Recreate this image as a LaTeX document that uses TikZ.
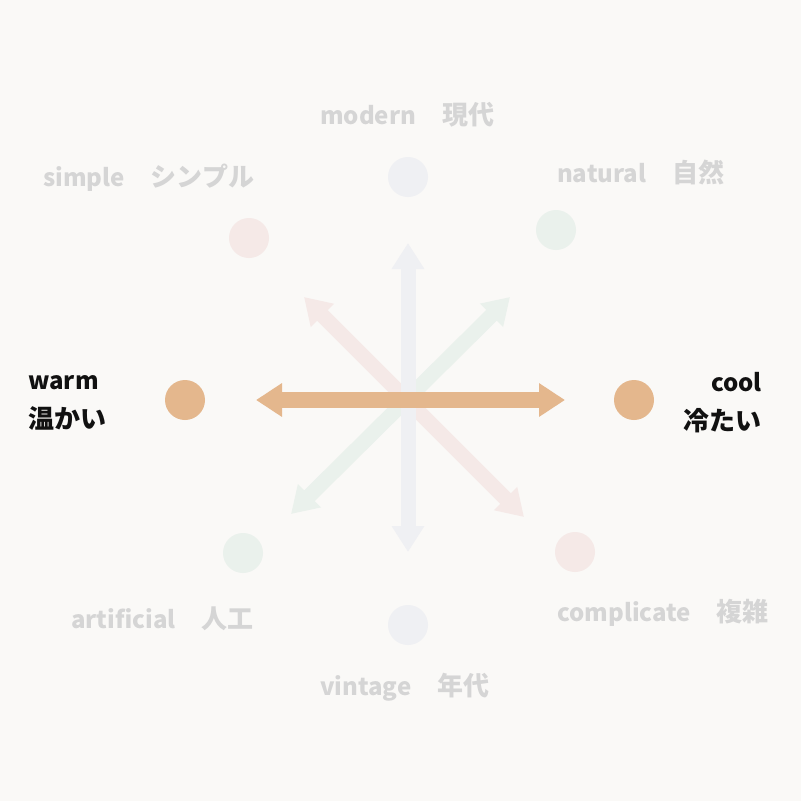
\documentclass[tikz,border=0pt]{standalone}
\usepackage{fontspec}
\setmainfont{Noto Sans CJK JP}
\usetikzlibrary{arrows.meta}
\definecolor{bgcol}{HTML}{FAF9F7}
\definecolor{warmcol}{HTML}{E4B78D}
\definecolor{modcol}{HTML}{EFF0F3}
\definecolor{simcol}{HTML}{F5E9E7}
\definecolor{natcol}{HTML}{EAF1EC}
\definecolor{labcol}{HTML}{D5D5D5}
\definecolor{inkcol}{HTML}{111111}
\newcommand{\ja}[1]{{\fontsize{26pt}{39pt}\selectfont #1}}

\begin{document}
\begin{tikzpicture}[x=1pt,y=-1pt, font=\fontsize{24pt}{39pt}\selectfont\bfseries,
    dot/.style={circle,inner sep=0pt,minimum size=40pt},
    faint/.style={text=labcol,inner sep=0pt,anchor=base west},
    axis/.style={line width=15pt,{Triangle[length=26pt,width=31pt]}-{Triangle[length=26pt,width=31pt]}},
    mainaxis/.style={line width=16pt,{Triangle[length=26pt,width=32pt]}-{Triangle[length=26pt,width=32pt]}}]
  \useasboundingbox[fill=bgcol] (0,0) rectangle (801,801);
  \node[dot,fill=modcol] (modern) at (408,177) {};
  \node[dot,fill=modcol] (vintage) at (408,625) {};
  \node[dot,fill=simcol] (simple) at (249,238) {};
  \node[dot,fill=simcol] (complicate) at (575,552) {};
  \node[dot,fill=natcol] (natural) at (556,230) {};
  \node[dot,fill=natcol] (artificial) at (243,553) {};
  \node[dot,fill=warmcol] (warm) at (185,400) {};
  \node[dot,fill=warmcol] (cool) at (634,400) {};
  \coordinate (simA) at (304,297);
  \coordinate (simB) at (524,517);
  \coordinate (natA) at (510,297);
  \coordinate (natB) at (291,514);
  \coordinate (modA) at (408,243);
  \coordinate (modB) at (408,552);
  \coordinate (warmA) at (256,400);
  \coordinate (warmB) at (565,400);
  \draw[axis,simcol] (simA) -- (simB);
  \draw[axis,natcol] (natA) -- (natB);
  \draw[axis,modcol] (modA) -- (modB);
  \draw[mainaxis,warmcol] (warmA) -- (warmB);
  \node[faint] (tmodern) at (320,124) {modern\ja{　現代}};
  \node[faint] (tsimple) at (43,186) {simple\ja{　シンプル}};
  \node[faint] (tnatural) at (557,182) {natural\ja{　自然}};
  \node[faint] (tartificial) at (71,628) {artificial\ja{　人工}};
  \node[faint] (tvintage) at (320,695) {vintage\ja{　年代}};
  \node[faint] (tcomplicate) at (557,621) {complicate\ja{　複雑}};
  \node[text=inkcol,inner sep=0pt,align=left,anchor=west] (twarm) at (28,403) {warm\\\ja{温かい}};
  \node[text=inkcol,inner sep=0pt,align=right,anchor=east] (tcool) at (762,403) {cool\\\ja{冷たい}};
\end{tikzpicture}
\end{document}
